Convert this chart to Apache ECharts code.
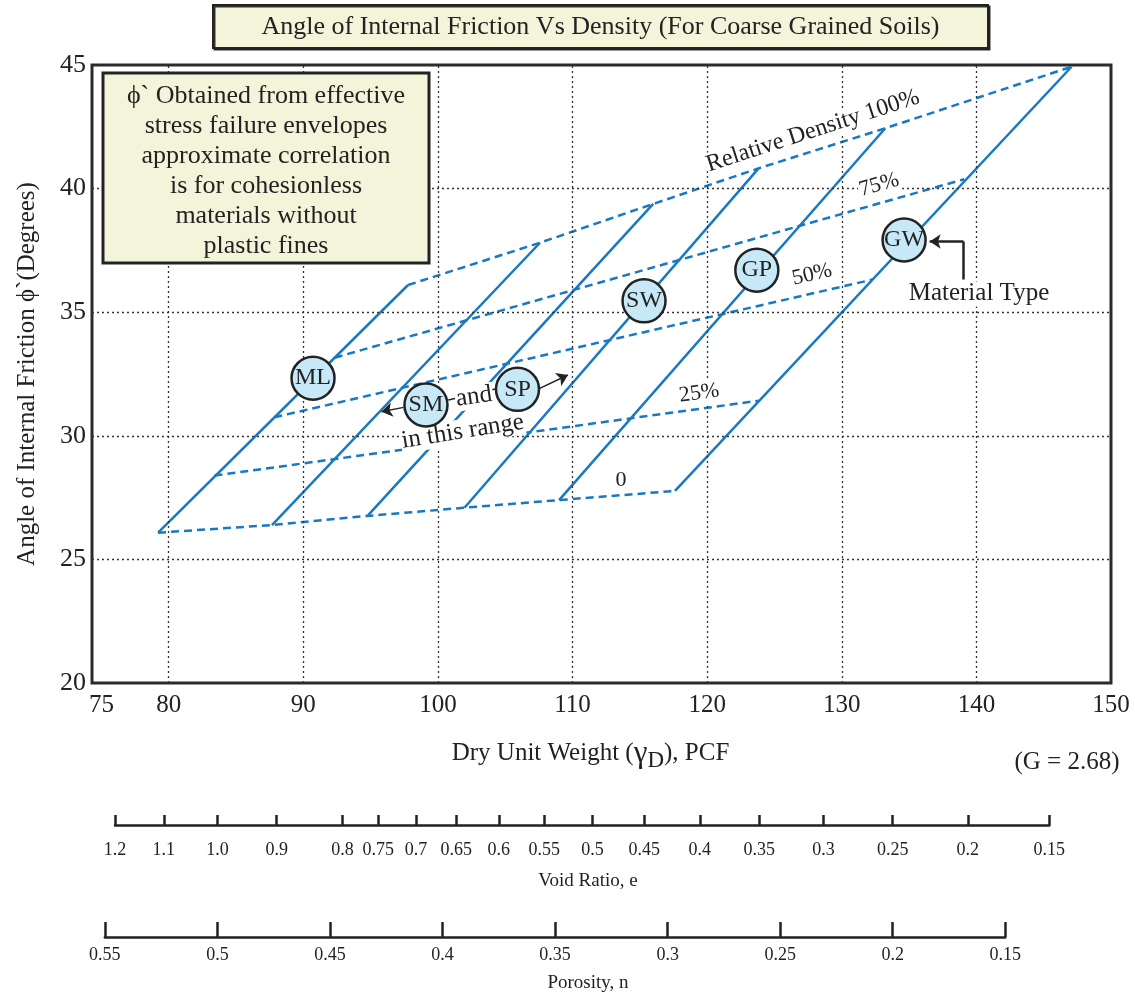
<!DOCTYPE html>
<html>
<head>
<meta charset="utf-8">
<script src="https://cdn.jsdelivr.net/npm/echarts@6/dist/echarts.min.js"></script>
<style>html,body{margin:0;padding:0;background:#fff}#chart{width:1135px;height:999px}</style>
</head>
<body>
<div id="chart"></div>
<script>
// ---------------- DATA ----------------
const dryUnitWeightTicks = [75, 80, 90, 100, 110, 120, 130, 140, 150];
const gridLinesX = [80, 90, 100, 110, 120, 130, 140];
const gridLinesY = [25, 30, 35, 40];

// material-type lines (solid): bottom = relative density 0, top = relative density 100%
const materialLineBottomX = [79.21, 87.67, 94.77, 101.97, 109.00, 117.61];
const materialLineBottomY = [26.08, 26.39, 26.76, 27.09, 27.40, 27.77];
const materialLineTopX    = [97.78, 107.58, 115.99, 123.82, 133.23, 147.07];
const materialLineTopY    = [36.10, 37.81, 39.38, 40.82, 42.44, 44.93];

// relative density lines (dashed)
const density25 = [[83.40, 28.39], [123.82, 31.42]];
const density50 = [[87.84, 30.75], [132.29, 36.32]];
const density75 = [[92.33, 33.16], [139.10, 40.38]];

// material type markers
const materialNames = ['ML', 'SM', 'SP', 'SW', 'GP', 'GW'];
const materialX = [90.72, 99.11, 105.91, 115.31, 123.69, 134.63];
const materialY = [32.33, 31.25, 31.88, 35.46, 36.70, 37.92];

// annotations (data coordinates)
const noteTexts = ['Relative Density 100%', '75%', '50%', '25%', '0', 'and', 'in this range', 'Material Type'];
const noteX = [127.86, 132.77, 127.79, 119.41, 113.60, 102.68, 101.84, 140.19];
const noteY = [42.33, 40.15, 36.52, 31.72, 28.21, 31.58, 30.17, 35.74];

// arrows (last point = arrow tip) and plain connector segments
const arrowSM = [[97.45, 31.15], [95.80, 30.97]];
const arrowSP = [[107.56, 31.92], [109.66, 32.46]];
const arrowGW = [[139.04, 37.86], [136.53, 37.86]];
const stemGW = [[139.04, 36.32], [139.04, 37.86]];
const linkSMSP = [[100.77, 31.45], [104.26, 31.89]];

// secondary scales
const specificGravity = 2.68;
const unitWeightWater = 62.4;
const voidRatioLabels = ['1.2','1.1','1.0','0.9','0.8','0.75','0.7','0.65','0.6','0.55','0.5','0.45','0.4','0.35','0.3','0.25','0.2','0.15'];
const porosityLabels = ['0.55','0.5','0.45','0.4','0.35','0.3','0.25','0.2','0.15'];

const boxLines = ['\u03d5` Obtained from effective', 'stress failure envelopes', 'approximate correlation', 'is for cohesionless', 'materials without', 'plastic fines'];

// ---------------- STYLE / LAYOUT ----------------
const FONT = '"Liberation Serif", "Times New Roman", serif';
const INK = '#222';
const BLUE = '#1878c1';
const CREAM = '#f4f4da';
const L = 92, T = 65, W = 1019, H = 618;
const X_MIN = 74.3, X_MAX = 150;
const k = W / (X_MAX - X_MIN);

const noteStyle = {
  'Relative Density 100%': {size: 24, rotate: 18, bg: '#fff'},
  '75%': {size: 22, rotate: 16, bg: '#fff'},
  '50%': {size: 22, rotate: 13, bg: '#fff'},
  '25%': {size: 22, rotate: 8, bg: '#fff'},
  '0': {size: 22, rotate: 0, bg: 'transparent'},
  'and': {size: 25, rotate: 8, bg: '#fff'},
  'in this range': {size: 25, rotate: 9, bg: '#fff'},
  'Material Type': {size: 25, rotate: 0, bg: '#fff'}
};

const voidPos = voidRatioLabels.map(s => specificGravity * unitWeightWater / (1 + parseFloat(s)));
const porPos = porosityLabels.map(s => specificGravity * unitWeightWater * (1 - parseFloat(s)));

function subGrid(pos) {
  const mn = Math.min(...pos), mx = Math.max(...pos);
  return {left: L + (mn - X_MIN) * k, width: (mx - mn) * k, min: mn, max: mx};
}
const vg = subGrid(voidPos);
const pg = subGrid(porPos);
function labelFor(pos, labels, v) {
  let best = 0;
  pos.forEach((p, i) => { if (Math.abs(p - v) < Math.abs(pos[best] - v)) best = i; });
  return labels[best];
}

// ---------------- SERIES ----------------
const series = [];
series.push({
  type: 'line', xAxisIndex: 0, yAxisIndex: 0, data: [], silent: true, z: 1,
  markLine: {
    silent: true, symbol: ['none', 'none'], label: {show: false}, animation: false,
    lineStyle: {type: [2, 3], color: '#333', width: 1.3},
    emphasis: {disabled: true},
    data: [...gridLinesX.map(x => ({xAxis: x})), ...gridLinesY.map(y => ({yAxis: y}))]
  }
});
const dashed = data => ({type: 'line', xAxisIndex: 0, yAxisIndex: 0, data, symbol: 'none', silent: true, z: 3,
  lineStyle: {color: BLUE, width: 2.5, type: [8, 5]}});
series.push(dashed(materialLineBottomX.map((x, i) => [x, materialLineBottomY[i]])));
series.push(dashed(materialLineTopX.map((x, i) => [x, materialLineTopY[i]])));
series.push(dashed(density25), dashed(density50), dashed(density75));
materialLineBottomX.forEach((x, i) => {
  series.push({type: 'line', xAxisIndex: 0, yAxisIndex: 0, symbol: 'none', silent: true, z: 3,
    data: [[x, materialLineBottomY[i]], [materialLineTopX[i], materialLineTopY[i]]],
    lineStyle: {color: BLUE, width: 2.5}});
});
// annotations
series.push({
  type: 'scatter', xAxisIndex: 0, yAxisIndex: 0, symbolSize: 0, silent: true, z: 5,
  itemStyle: {opacity: 1},
  data: noteTexts.map((t, i) => ({
    name: t, value: [noteX[i], noteY[i]],
    label: {rotate: noteStyle[t].rotate, fontSize: noteStyle[t].size, backgroundColor: noteStyle[t].bg}
  })),
  label: {show: true, position: 'inside', formatter: '{b}', color: INK, opacity: 1, fontFamily: FONT, padding: [0, 1]}
});
// plain connector segments
series.push({
  type: 'lines', coordinateSystem: 'cartesian2d', xAxisIndex: 0, yAxisIndex: 0, silent: true, z: 4,
  symbol: ['none', 'none'], lineStyle: {color: INK, width: 1.5, opacity: 1, curveness: 0},
  data: [{coords: linkSMSP}, {coords: stemGW, lineStyle: {width: 2.5}}]
});
// arrows
series.push({
  type: 'lines', coordinateSystem: 'cartesian2d', xAxisIndex: 0, yAxisIndex: 0, silent: true, z: 7,
  symbol: ['none', 'arrow'], symbolSize: 11,
  lineStyle: {color: INK, width: 1.5, opacity: 1, curveness: 0},
  data: [{coords: arrowSM}, {coords: arrowSP}, {coords: arrowGW, lineStyle: {width: 2.5}}]
});
// material circles
series.push({
  type: 'scatter', xAxisIndex: 0, yAxisIndex: 0, symbol: 'circle', symbolSize: 43, silent: true, z: 6,
  itemStyle: {color: '#c6e8f7', borderColor: INK, borderWidth: 2.5, opacity: 1},
  label: {show: true, position: 'inside', formatter: '{b}', color: INK, fontFamily: FONT, fontSize: 24},
  data: materialNames.map((n, i) => ({name: n, value: [materialX[i], materialY[i]]}))
});

const chart = echarts.init(document.getElementById('chart'), null, {renderer: 'canvas'});
chart.setOption({
  animation: false,
  backgroundColor: '#fff',
  textStyle: {fontFamily: FONT},
  grid: [
    {left: L, top: T, width: W, height: H, show: true, borderColor: '#2b2b2b', borderWidth: 3,
     backgroundColor: 'transparent', containLabel: false, outerBoundsMode: 'none'},
    {left: vg.left, width: vg.width, top: 815, height: 10, containLabel: false, outerBoundsMode: 'none'},
    {left: pg.left, width: pg.width, top: 922, height: 15, containLabel: false, outerBoundsMode: 'none'}
  ],
  xAxis: [
    {gridIndex: 0, type: 'value', min: X_MIN, max: X_MAX,
     axisLine: {show: false}, axisTick: {show: false}, splitLine: {show: false},
     axisLabel: {customValues: dryUnitWeightTicks, fontSize: 25, fontFamily: FONT, color: INK, margin: 10},
     name: '{a|Dry Unit Weight (}{g|\u03b3}{s|D}{a|), PCF}', nameLocation: 'middle', nameGap: 52,
     nameTextStyle: {color: INK, fontFamily: FONT, fontSize: 25, padding: [0, 22, 0, 0],
       rich: {a: {fontSize: 25, fontFamily: FONT, color: INK},
              g: {fontSize: 31, fontFamily: FONT, color: INK},
              s: {fontSize: 23, fontFamily: FONT, color: INK, padding: [14, 0, 0, 0]}}}},
    {gridIndex: 1, type: 'value', min: vg.min, max: vg.max,
     axisLine: {show: true, onZero: false, lineStyle: {color: INK, width: 2.5}},
     axisTick: {show: true, inside: true, length: 10, customValues: voidPos, lineStyle: {color: INK, width: 2.5}},
     axisLabel: {customValues: voidPos, formatter: v => labelFor(voidPos, voidRatioLabels, v),
       fontSize: 18, fontFamily: FONT, color: INK, margin: 16},
     splitLine: {show: false}},
    {gridIndex: 2, type: 'value', min: pg.min, max: pg.max,
     axisLine: {show: true, onZero: false, lineStyle: {color: INK, width: 2.5}},
     axisTick: {show: true, inside: true, length: 15, customValues: porPos, lineStyle: {color: INK, width: 2.5}},
     axisLabel: {customValues: porPos, formatter: v => labelFor(porPos, porosityLabels, v),
       fontSize: 18, fontFamily: FONT, color: INK, margin: 9},
     splitLine: {show: false}}
  ],
  yAxis: [
    {gridIndex: 0, type: 'value', min: 20, max: 45, interval: 5,
     axisLine: {show: false}, axisTick: {show: false}, splitLine: {show: false},
     axisLabel: {fontSize: 26, fontFamily: FONT, color: INK, margin: 6},
     name: 'Angle of Internal Friction \u03d5`(Degrees)', nameLocation: 'middle', nameGap: 52,
     nameTextStyle: {color: INK, fontFamily: FONT, fontSize: 25}},
    {gridIndex: 1, type: 'value', min: 0, max: 1, show: false},
    {gridIndex: 2, type: 'value', min: 0, max: 1, show: false}
  ],
  series: series,
  graphic: [
    {type: 'rect', z: 100, shape: {x: 213, y: 5, width: 775, height: 43},
     style: {fill: CREAM, stroke: INK, lineWidth: 2, shadowColor: 'rgba(0,0,0,0.8)', shadowOffsetX: 1.5, shadowOffsetY: 1.5}},
    {type: 'text', z: 101, style: {x: 600.5, y: 27, text: 'Angle of Internal Friction Vs Density (For Coarse Grained Soils)',
      font: '26px ' + FONT, fill: INK, textAlign: 'center', textVerticalAlign: 'middle'}},
    {type: 'rect', z: 100, shape: {x: 103, y: 73, width: 326, height: 190},
     style: {fill: CREAM, stroke: INK, lineWidth: 3}},
    {type: 'text', z: 101, style: {x: 266, y: 81, text: boxLines.join('\n'), font: '26px ' + FONT, lineHeight: 30,
      fill: INK, textAlign: 'center', textVerticalAlign: 'top'}},
    {type: 'text', z: 100, style: {x: 1067, y: 762, text: '(G = 2.68)', font: '25px ' + FONT, fill: INK,
      textAlign: 'center', textVerticalAlign: 'middle'}},
    {type: 'text', z: 100, style: {x: 588, y: 881, text: 'Void Ratio, e', font: '19px ' + FONT, fill: INK,
      textAlign: 'center', textVerticalAlign: 'middle'}},
    {type: 'text', z: 100, style: {x: 588, y: 983, text: 'Porosity, n', font: '19px ' + FONT, fill: INK,
      textAlign: 'center', textVerticalAlign: 'middle'}}
  ]
});
</script>
</body>
</html>
